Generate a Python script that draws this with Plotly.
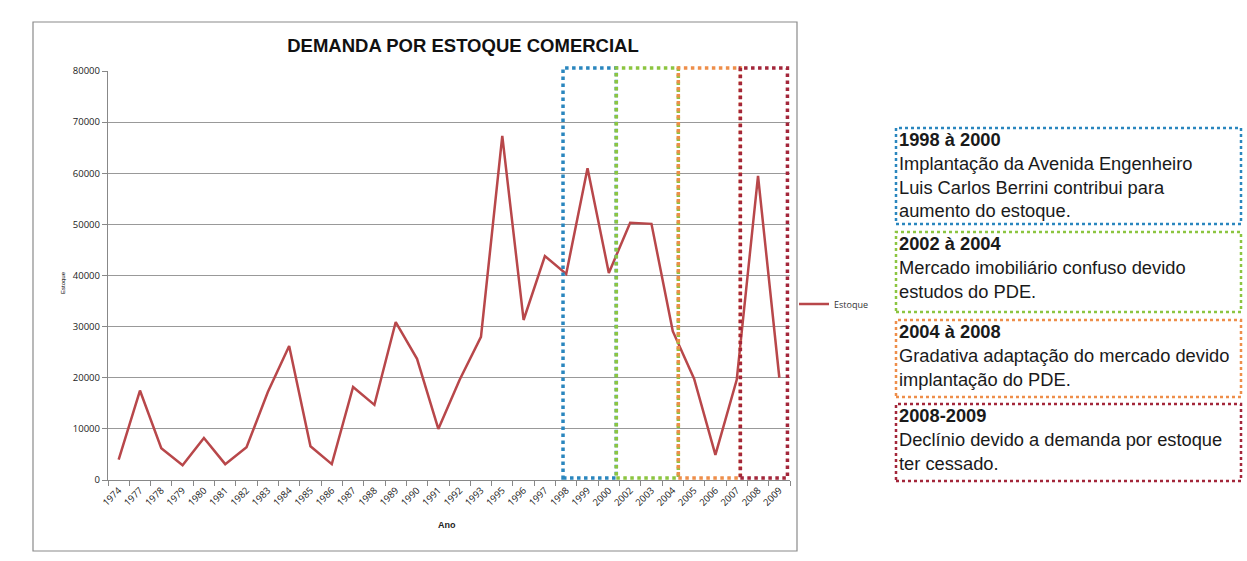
import plotly.graph_objects as go

anos = ["1974", "1977", "1978", "1979", "1980", "1981", "1982", "1983", "1984", "1985",
        "1986", "1987", "1988", "1989", "1990", "1991", "1992", "1993", "1995", "1996",
        "1997", "1998", "1999", "2000", "2002", "2003", "2004", "2005", "2006", "2007",
        "2008", "2009"]
estoque = [4000, 17500, 6200, 2900, 8200, 3100, 6400, 17200, 26200, 6600,
           3100, 18200, 14700, 30900, 23700, 10000, 19600, 28000, 67300, 31300,
           43800, 40300, 61000, 40500, 50300, 50100, 29100, 19800, 4900, 19600,
           59500, 20000]

y_ticks = [0, 10000, 20000, 30000, 40000, 50000, 60000, 70000, 80000]
y_labels = [str(v) for v in y_ticks]

# periods highlighted (category-index positions on the x axis)
periodos = [(20.85, 23.35, "#2A86BE"), (23.35, 26.26, "#8CC540"),
            (26.26, 29.17, "#EE8E4A"), (29.17, 31.38, "#A3263A")]

notas_titulo = ["1998 à 2000", "2002 à 2004", "2004 à 2008", "2008-2009"]
notas_texto = ["Implantação da Avenida Engenheiro<br>Luis Carlos Berrini contribui para<br>aumento do estoque.",
               "Mercado imobiliário confuso devido<br>estudos do PDE.",
               "Gradativa adaptação do mercado devido<br>implantação do PDE.",
               "Declínio devido a demanda por estoque<br>ter cessado."]
notas_cor = ["#2A86BE", "#8CC540", "#EE8E4A", "#A3263A"]
notas_box = [(128, 224), (232, 312), (320, 397), (404, 481)]

W, H = 1247, 561
L, R, T, B = 108, 790, 71, 480


def px(x):
    return (x - L) / (R - L)


def py(y):
    return (B - y) / (B - T)


fig = go.Figure()
fig.add_trace(go.Scatter(x=anos, y=estoque, mode="lines", name="Estoque",
                         line=dict(color="#B8474A", width=2.5)))

shapes = []
# outer chart frame
shapes.append(dict(type="rect", xref="paper", yref="paper", x0=px(33), x1=px(797),
                   y0=py(551), y1=py(22), line=dict(color="#8A8A8A", width=1.2), layer="below"))
for x0, x1, c in periodos:
    shapes.append(dict(type="rect", xref="x", yref="paper", x0=x0, x1=x1, y0=py(478), y1=py(68),
                       line=dict(color=c, width=3.5, dash="dot")))
annotations = []
for (t0, t1), c, tt, tx in zip(notas_box, notas_cor, notas_titulo, notas_texto):
    shapes.append(dict(type="rect", xref="paper", yref="paper", x0=px(896), x1=px(1241),
                       y0=py(t1), y1=py(t0), line=dict(color=c, width=2.5, dash="dot")))
    annotations.append(dict(xref="paper", yref="paper", x=px(897), y=py(t0 - 1),
                            xanchor="left", yanchor="top", align="left", showarrow=False,
                            text="<b>" + tt + "</b><br>" + tx,
                            font=dict(family="Liberation Sans, Arial", size=18.3, color="#1a1a1a")))

annotations.append(dict(xref="paper", yref="paper", x=px(58), y=py(283), showarrow=False,
                        text="Estoque", textangle=-90,
                        font=dict(family="Liberation Sans, Arial", size=6, color="#000")))
annotations.append(dict(xref="paper", yref="paper", x=px(447), y=py(532), showarrow=False,
                        text="<b>Ano</b>",
                        font=dict(family="Liberation Sans, Arial", size=9, color="#222")))

fig.update_layout(
    width=W, height=H,
    margin=dict(l=L, r=W - R, t=T, b=H - B, pad=0),
    paper_bgcolor="white", plot_bgcolor="white",
    title=dict(text="<b>DEMANDA POR ESTOQUE COMERCIAL</b>", xref="paper", x=px(463),
               xanchor="center", y=1 - 46 / H, yanchor="middle",
               font=dict(family="Liberation Sans, Arial", size=18.5, color="#111")),
    showlegend=True,
    legend=dict(x=px(794), y=py(304), xanchor="left", yanchor="middle",
                font=dict(family="Open Sans, Calibri", size=9, color="#333"),
                bgcolor="rgba(0,0,0,0)", itemwidth=30),
    shapes=shapes, annotations=annotations,
)
fig.update_xaxes(type="category", categoryorder="array", categoryarray=anos,
                 range=[-0.5, len(anos) - 0.5], tickangle=-45, tickson="boundaries",
                 ticks="outside", ticklen=5, tickcolor="#888", showline=True,
                 linecolor="#888", linewidth=1.2, showgrid=False,
                 tickfont=dict(family="Open Sans, Calibri", size=9.5, color="#222"))
fig.update_yaxes(range=[0, 80000], tickvals=y_ticks, ticktext=y_labels, ticks="outside",
                 ticklen=5, tickcolor="#888", showline=True, linecolor="#888", linewidth=1.2,
                 showgrid=True, gridcolor="#999", gridwidth=1, zeroline=False,
                 tickfont=dict(family="Open Sans, Calibri", size=9.5, color="#222"))

fig.write_html("out.html")
